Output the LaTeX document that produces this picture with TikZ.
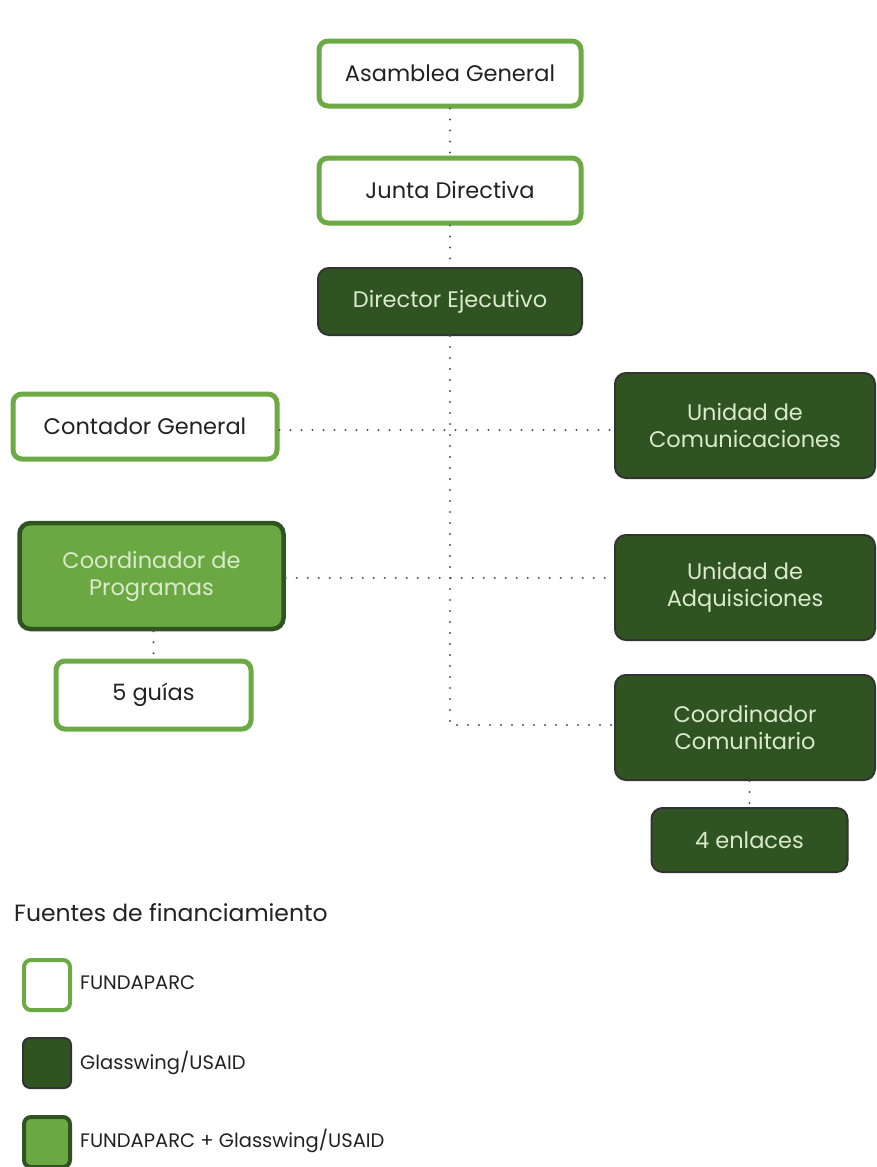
\documentclass[tikz,border=0pt]{standalone}
\usepackage{fontspec}
\setmainfont{Poppins}
\definecolor{lgreen}{HTML}{6DAA45}
\definecolor{dgreen}{HTML}{2F5422}
\definecolor{mgreen}{HTML}{6BA843}
\definecolor{ltext}{HTML}{D9EBCB}
\definecolor{dtext}{HTML}{222222}
\definecolor{dotc}{HTML}{555555}
\begin{document}
\begin{tikzpicture}[x=1pt,y=-1pt,
  boxfont/.style={font=\fontsize{22.5}{27}\selectfont},
  fbox/.style={draw=lgreen,line width=5pt,fill=white,rounded corners=9pt,text=dtext,align=center,boxfont,inner sep=0pt},
  gbox/.style={draw=black!80,line width=2pt,fill=dgreen,rounded corners=11pt,text=ltext,align=center,boxfont,inner sep=0pt},
  mbox/.style={draw=dgreen,line width=4.5pt,fill=mgreen,rounded corners=11pt,text=ltext,align=center,boxfont,inner sep=0pt},
  dots/.style={draw=dotc,line width=2.2pt,line cap=round,dash pattern=on 0pt off 11pt},
  legtext/.style={anchor=west,text=dtext,font=\fontsize{19.5}{22}\selectfont,inner sep=0pt}]
\useasboundingbox[fill=white] (0,0) rectangle (876,1167);
% nodes
\node[fbox,minimum width=262pt,minimum height=65pt] (ag) at (450,73.5) {Asamblea General};
\node[fbox,minimum width=262pt,minimum height=65pt] (jd) at (450,190.5) {Junta Directiva};
\node[gbox,minimum width=264pt,minimum height=67pt] (de) at (450,301.5) {Director Ejecutivo};
\node[fbox,minimum width=264pt,minimum height=65pt] (cg) at (145,426.5) {Contador General};
\node[gbox,minimum width=260pt,minimum height=105pt] (uc) at (745,425.5) {Unidad de\\Comunicaciones};
\node[mbox,minimum width=264pt,minimum height=106pt] (cp) at (151.5,576) {Coordinador de\\Programas};
\node[gbox,minimum width=260pt,minimum height=105pt] (ua) at (745,587.5) {Unidad de\\Adquisiciones};
\node[fbox,minimum width=195pt,minimum height=68pt] (cinco) at (153.5,695) {5 guías};
\node[gbox,minimum width=260pt,minimum height=105pt] (cc) at (745,727.5) {Coordinador\\Comunitario};
\node[gbox,minimum width=196pt,minimum height=64pt] (cuatro) at (749.5,840) {4 enlaces};
% connectors
\coordinate (j1) at (450,430);
\coordinate (j2) at (450,578);
\coordinate (j3) at (450,725);
\draw[dots] (ag.south) -- (jd.north);
\draw[dots] (jd.south) -- (de.north);
\draw[dots] (de.south) -- (j3) -- (cc.west |- j3);
\draw[dots] (cg.east |- j1) -- (uc.west |- j1);
\draw[dots] (cp.east |- j2) -- (ua.west |- j2);
\draw[dots] (cp.south -| cinco.north) -- (cinco.north);
\draw[dots] (cc.south -| cuatro.north) -- (cuatro.north);
% legend
\node[anchor=west,text=dtext,font=\fontsize{23.5}{28}\selectfont,inner sep=0pt] (title) at (14,913) {Fuentes de financiamiento};
\node[draw=lgreen,line width=4pt,fill=white,rounded corners=7pt,minimum width=46pt,minimum height=50pt,inner sep=0pt] (l1) at (47,985) {};
\node[draw=black!80,line width=2pt,fill=dgreen,rounded corners=7pt,minimum width=48pt,minimum height=50pt,inner sep=0pt] (l2) at (47,1063) {};
\node[draw=dgreen,line width=4pt,fill=mgreen,rounded corners=7pt,minimum width=46pt,minimum height=50pt,inner sep=0pt] (l3) at (47,1142) {};
\node[legtext] (t1) at (80,983) {FUNDAPARC};
\node[legtext] (t2) at (80,1063) {Glasswing/USAID};
\node[legtext] (t3) at (80,1141) {FUNDAPARC + Glasswing/USAID};
\end{tikzpicture}
\end{document}
